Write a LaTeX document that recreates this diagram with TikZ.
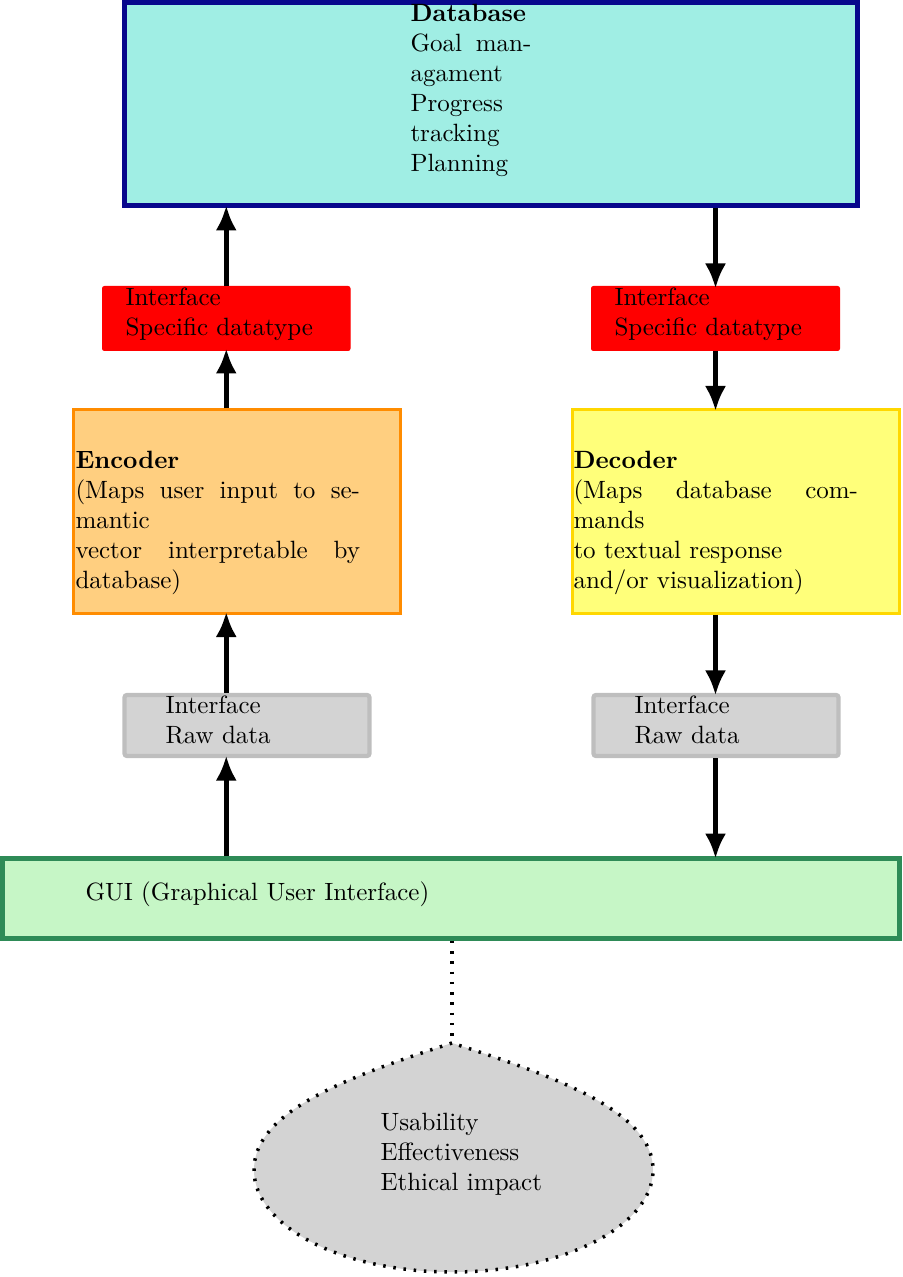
\documentclass[tikz,border=0pt]{standalone}
\usetikzlibrary{arrows.meta,fit,calc}
\definecolor{dbfill}{RGB}{160,238,228}
\definecolor{dbline}{RGB}{8,8,140}
\definecolor{encfill}{RGB}{255,207,128}
\definecolor{encline}{RGB}{255,140,0}
\definecolor{decfill}{RGB}{255,255,122}
\definecolor{decline}{RGB}{255,215,0}
\definecolor{grayfill}{RGB}{211,211,211}
\definecolor{grayline}{RGB}{190,190,190}
\definecolor{guifill}{RGB}{198,246,198}
\definecolor{guiline}{RGB}{46,139,87}
\begin{document}
\begin{tikzpicture}[x=0.4pt,y=-0.4pt,
  box/.style={draw, inner sep=0pt, rectangle},
  redbox/.style={box, fill=red, draw=red, line width=0.4pt, rounded corners=0.8pt},
  graybox/.style={box, fill=grayfill, draw=grayline, line width=1.7pt, rounded corners=1pt},
  lbl/.style={anchor=north west, inner sep=0pt, align=left},
  para/.style={anchor=north west, inner sep=0pt, text width=4cm, align=justify},
  arr/.style={-{Latex[length=10pt,width=8.5pt]}, line width=1.9pt, shorten >=-1pt},
  dots/.style={line width=1.4pt, dash pattern=on 1pt off 3.1pt}]
\useasboundingbox (0,0) rectangle (902,1277);

% boxes
\node[box, fill=dbfill, draw=dbline, line width=2pt, fit={(124.8,2.5) (857.5,205.5)}] (db) {};
\node[redbox, fit={(102.5,286.5) (350,350.5)}] (ifL) {};
\node[redbox, fit={(591.5,286.5) (839.5,350.5)}] (ifR) {};
\node[box, fill=encfill, draw=encline, line width=1.2pt, fit={(73,410) (400,613)}] (enc) {};
\node[box, fill=decfill, draw=decline, line width=1.2pt, fit={(572.5,410) (899.5,613)}] (dec) {};
\node[graybox, fit={(124.5,695) (369.5,756)}] (grL) {};
\node[graybox, fit={(593.5,695) (838.5,756)}] (grR) {};
\node[box, fill=guifill, draw=guiline, line width=1.8pt, fit={(2.5,858.3) (899.5,938.5)}] (gui) {};

% texts
\node[anchor=north west, inner sep=0pt, text width=1.7cm, align=justify] (dbt) at (410,4)
  {\textbf{Database}\\Goal managament\\Progress tracking\\Planning};
\node[lbl] (ifLt) at (125,287.5) {Interface\\Specific datatype};
\node[lbl] (ifRt) at (614,287.5) {Interface\\Specific datatype};
\node[para] (enct) at (75,451) {\textbf{Encoder}\\(Maps user input to semantic\\vector interpretable by database)};
\node[para] (dect) at (573,451) {\textbf{Decoder}\\(Maps database commands\\to textual response\\and/or visualization)};
\node[lbl] (grLt) at (165,695) {Interface\\Raw data};
\node[lbl] (grRt) at (634,695) {Interface\\Raw data};
\node[anchor=base west, inner sep=0pt] (guit) at (85,900) {GUI (Graphical User Interface)};

% evaluation shape
\coordinate (apex) at (452,1043);
\draw[dots, fill=grayfill] (apex) .. controls (344,1078) and (254,1112) .. (254,1170)
  .. controls (254,1226) and (341,1272) .. (452,1272)
  .. controls (563,1272) and (653,1226) .. (653,1170)
  .. controls (653,1112) and (560,1078) .. (apex) -- cycle;
\node[lbl] (evt) at (380,1113) {Usability\\Effectiveness\\Ethical impact};
\draw[dots] (apex |- gui.south) -- (apex);

% arrows
\draw[arr] (ifL.north) -- (ifL.north |- db.south);
\draw[arr] (enc.north -| ifL) -- (ifL.south);
\draw[arr] (grL.north -| ifL) -- (enc.south -| ifL);
\draw[arr] (gui.north -| ifL) -- (grL.south -| ifL);
\draw[arr] (db.south -| ifR) -- (ifR.north);
\draw[arr] (ifR.south) -- (ifR.south |- dec.north);
\draw[arr] (dec.south -| ifR) -- (grR.north -| ifR);
\draw[arr] (grR.south -| ifR) -- (gui.north -| ifR);
\end{tikzpicture}
\end{document}
